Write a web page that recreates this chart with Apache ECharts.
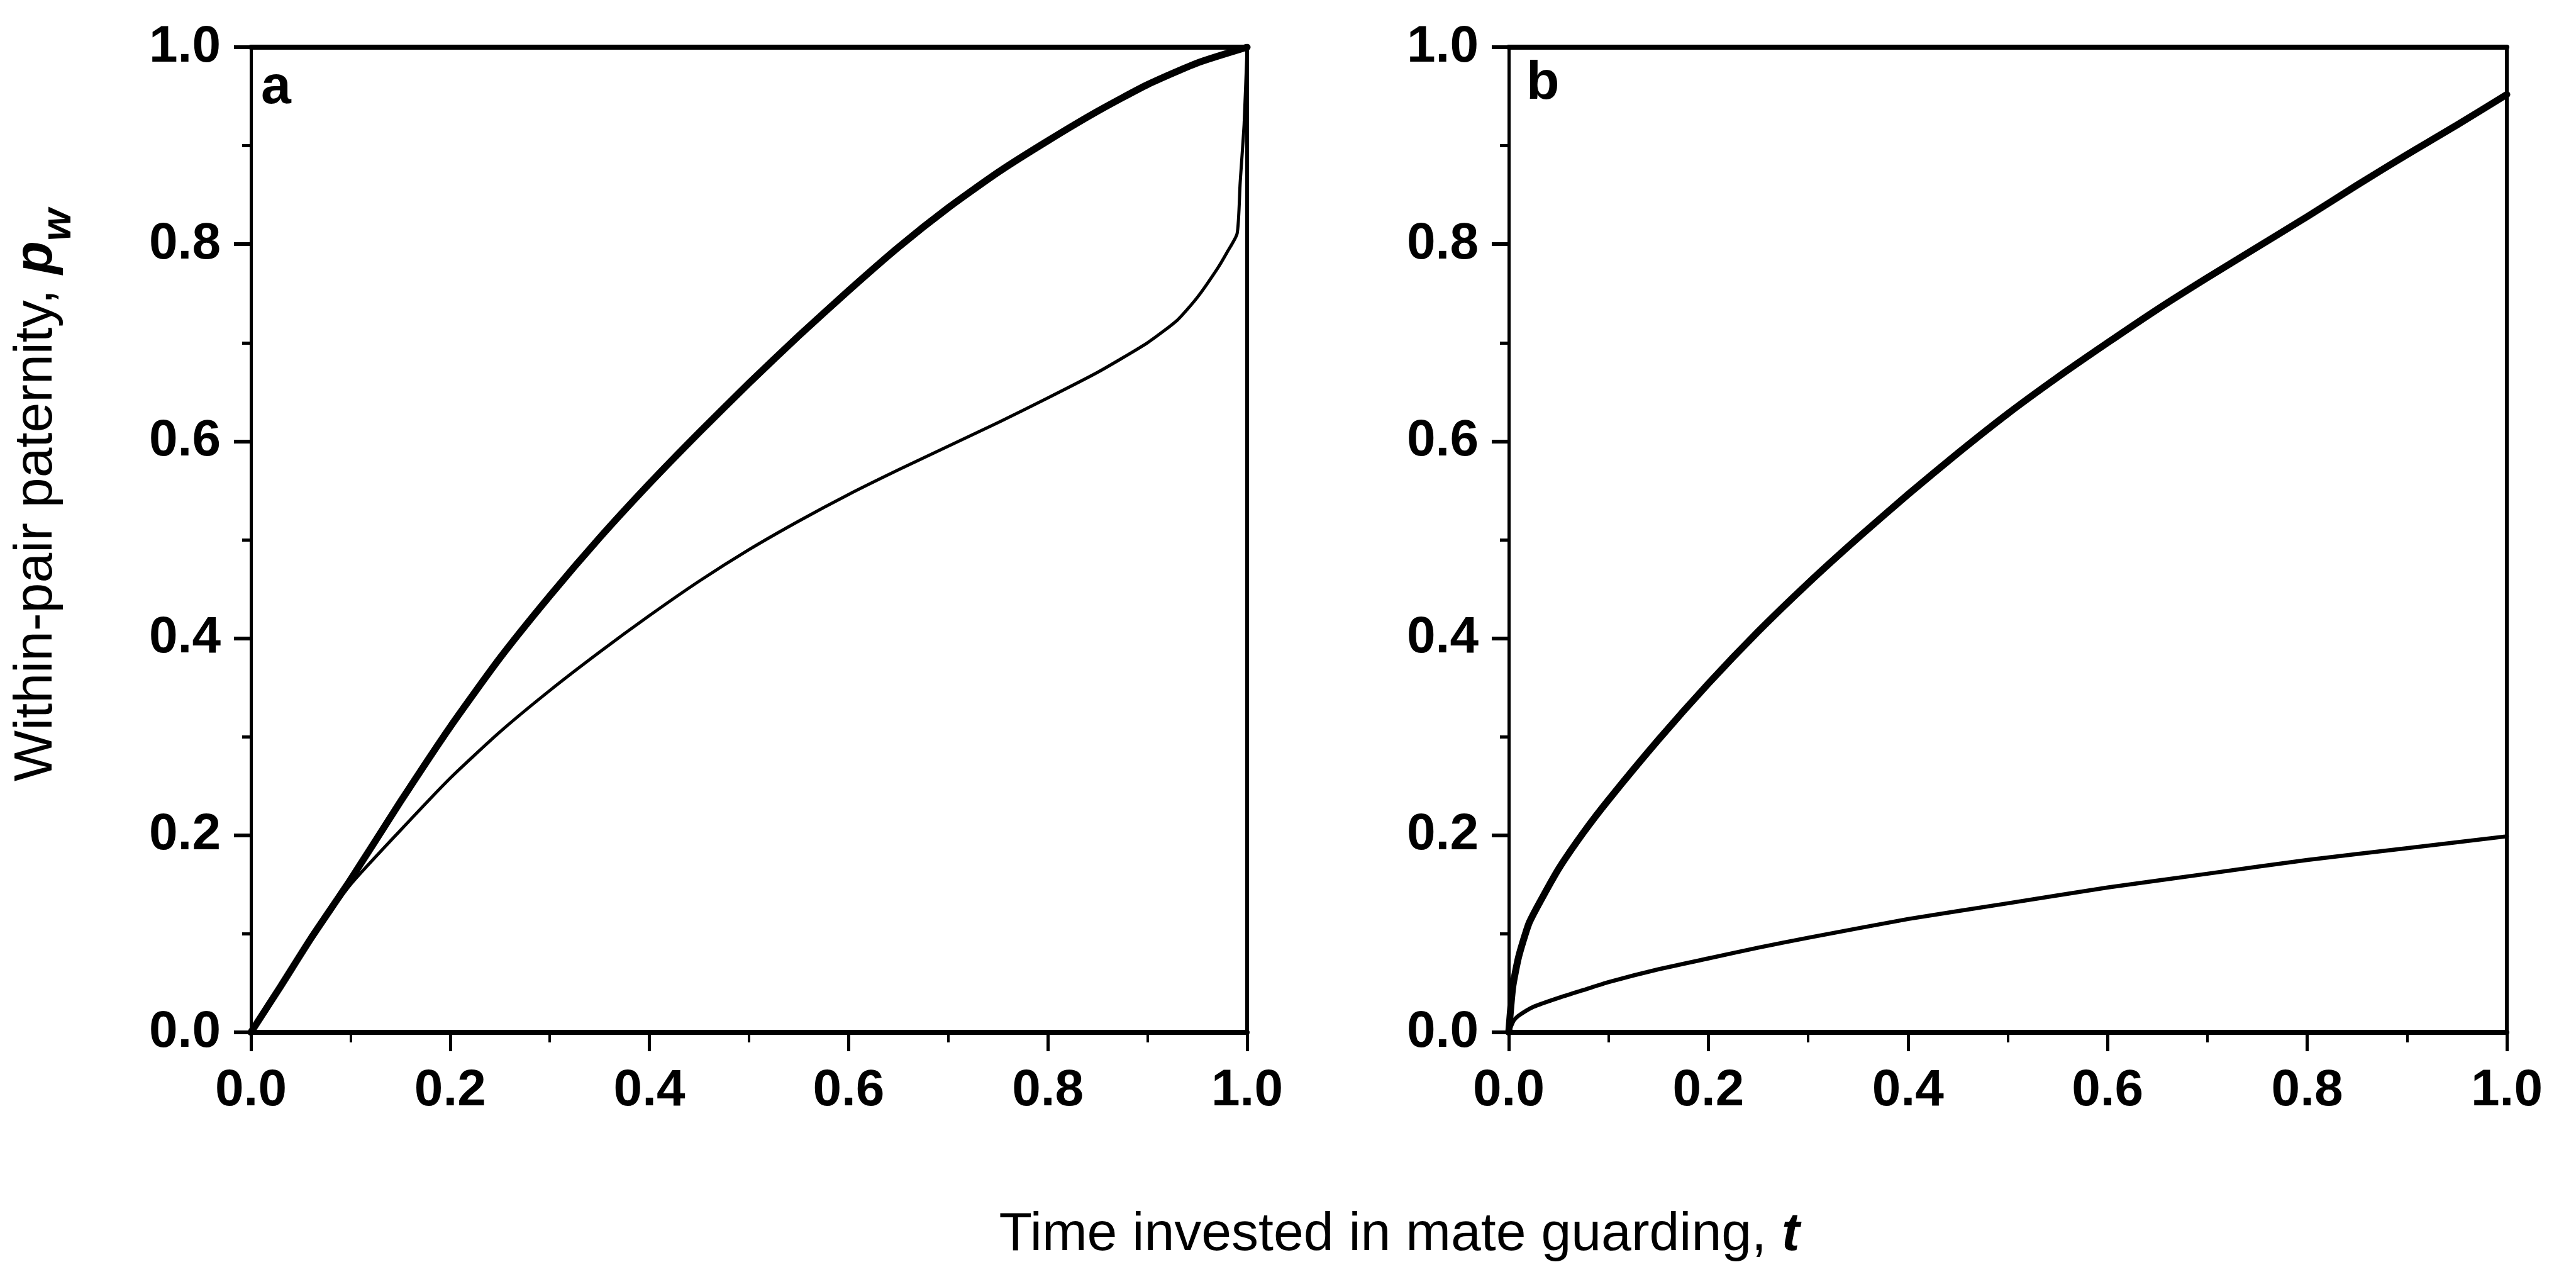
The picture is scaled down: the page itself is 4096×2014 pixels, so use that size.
<!DOCTYPE html>
<html>
<head>
<meta charset="utf-8">
<script src="https://cdn.jsdelivr.net/npm/echarts@6/dist/echarts.min.js"></script>
<style>
  html, body { margin: 0; padding: 0; background: #fff; }
  #chart { width: 4096px; height: 2014px; }
</style>
</head>
<body>
<div id="chart"></div>
<script>
// Panel a: time invested in mate guarding (t) vs within-pair paternity (p_w)
const tA_upper = [0, 0.03, 0.06, 0.10, 0.15, 0.20, 0.25, 0.30, 0.35, 0.40, 0.45, 0.50, 0.55, 0.60, 0.65, 0.70, 0.75, 0.80, 0.85, 0.90, 0.95, 1.0];
const pwA_upper = [0, 0.047, 0.095, 0.155, 0.234, 0.310, 0.380, 0.443, 0.502, 0.557, 0.609, 0.659, 0.707, 0.753, 0.797, 0.837, 0.873, 0.905, 0.935, 0.962, 0.984, 1.0];

const tA_lower = [0, 0.03, 0.06, 0.10, 0.15, 0.20, 0.25, 0.30, 0.35, 0.40, 0.45, 0.50, 0.55, 0.60, 0.65, 0.70, 0.75, 0.80, 0.85, 0.90, 0.93, 0.95, 0.97, 0.98, 0.99, 0.993, 0.997, 1.0];
const pwA_lower = [0, 0.047, 0.095, 0.150, 0.205, 0.258, 0.305, 0.347, 0.386, 0.423, 0.458, 0.490, 0.519, 0.546, 0.571, 0.595, 0.619, 0.644, 0.670, 0.700, 0.723, 0.746, 0.775, 0.792, 0.811, 0.862, 0.922, 1.0];

// Panel b
const tB_upper = [0, 0.004, 0.01, 0.02, 0.03, 0.05, 0.075, 0.10, 0.15, 0.20, 0.25, 0.30, 0.35, 0.40, 0.45, 0.50, 0.55, 0.60, 0.65, 0.70, 0.75, 0.80, 0.85, 0.90, 0.95, 1.0];
const pwB_upper = [0, 0.046, 0.077, 0.110, 0.130, 0.166, 0.203, 0.236, 0.297, 0.354, 0.407, 0.456, 0.502, 0.546, 0.588, 0.628, 0.665, 0.700, 0.734, 0.766, 0.797, 0.828, 0.860, 0.891, 0.921, 0.952];

const tB_lower = [0, 0.005, 0.01, 0.025, 0.05, 0.075, 0.10, 0.15, 0.20, 0.25, 0.30, 0.40, 0.50, 0.60, 0.70, 0.80, 0.90, 1.0];
const pwB_lower = [0, 0.012, 0.017, 0.026, 0.035, 0.043, 0.051, 0.064, 0.075, 0.086, 0.096, 0.115, 0.131, 0.147, 0.161, 0.175, 0.187, 0.199];

// Axis ticks (both axes, both panels)
const tickMin = 0, tickMax = 1, tickStep = 0.2;

const panelLabels = ['a', 'b'];
const yTitle = 'Within-pair paternity, ';
const xTitle = 'Time invested in mate guarding, ';

const FONT = '"Liberation Sans", Arial, Helvetica, sans-serif';
const INK = '#000';

function pairs(xs, ys) { return xs.map((x, i) => [x, ys[i]]); }

function mainX(gi) {
  return {
    gridIndex: gi, type: 'value', position: 'bottom',
    min: tickMin, max: tickMax, interval: tickStep,
    axisLine: { show: true, onZero: false, lineStyle: { color: INK, width: 8 } },
    axisTick: { show: true, inside: false, length: 30, lineStyle: { color: INK, width: 5 } },
    minorTick: { show: true, splitNumber: 2, length: 16, lineStyle: { color: INK, width: 4 } },
    splitLine: { show: false },
    axisLabel: {
      show: true, margin: 52, color: INK, fontFamily: FONT, fontWeight: 'bold', fontSize: 82,
      formatter: v => v.toFixed(1)
    }
  };
}
function frameX(gi) {
  return {
    gridIndex: gi, type: 'value', position: 'top', min: tickMin, max: tickMax,
    axisLine: { show: true, onZero: false, lineStyle: { color: INK, width: 8 } },
    axisTick: { show: false }, axisLabel: { show: false }, splitLine: { show: false }
  };
}
function mainY(gi) {
  return {
    gridIndex: gi, type: 'value', position: 'left',
    min: tickMin, max: tickMax, interval: tickStep,
    axisLine: { show: true, onZero: false, lineStyle: { color: INK, width: 5 } },
    axisTick: { show: true, inside: false, length: 27, lineStyle: { color: INK, width: 6 } },
    minorTick: { show: true, splitNumber: 2, length: 14, lineStyle: { color: INK, width: 5 } },
    splitLine: { show: false },
    axisLabel: {
      show: true, margin: 48, color: INK, fontFamily: FONT, fontWeight: 'bold', fontSize: 82,
      formatter: v => v.toFixed(1)
    }
  };
}
function frameY(gi) {
  return {
    gridIndex: gi, type: 'value', position: 'right', min: tickMin, max: tickMax,
    axisLine: { show: true, onZero: false, lineStyle: { color: INK, width: 6 } },
    axisTick: { show: false }, axisLabel: { show: false }, splitLine: { show: false }
  };
}

function curve(data, xi, yi, w) {
  return {
    type: 'line', xAxisIndex: xi, yAxisIndex: yi, data: data,
    showSymbol: false, smooth: 0.2,
    lineStyle: { color: INK, width: w, cap: 'round', join: 'round' },
    silent: true, animation: false
  };
}

const chart = echarts.init(document.getElementById('chart'), null, { renderer: 'canvas' });
chart.setOption({
  backgroundColor: '#fff',
  animation: false,
  grid: [
    { left: 399, top: 75, width: 1584, height: 1566 },
    { left: 2399, top: 75, width: 1587, height: 1566 }
  ],
  xAxis: [mainX(0), frameX(0), mainX(1), frameX(1)],
  yAxis: [mainY(0), frameY(0), mainY(1), frameY(1)],
  series: [
    curve(pairs(tA_upper, pwA_upper), 0, 0, 11),
    curve(pairs(tA_lower, pwA_lower), 0, 0, 5),
    curve(pairs(tB_upper, pwB_upper), 2, 2, 11),
    curve(pairs(tB_lower, pwB_lower), 2, 2, 6.5)
  ],
  graphic: [
    {
      type: 'text', x: 415, y: 140,
      style: { text: panelLabels[0], fill: INK, font: 'bold 86px ' + FONT, align: 'left', verticalAlign: 'middle' }
    },
    {
      type: 'text', x: 2427, y: 133,
      style: { text: panelLabels[1], fill: INK, font: 'bold 86px ' + FONT, align: 'left', verticalAlign: 'middle' }
    },
    {
      type: 'text', x: 2225, y: 1963,
      style: {
        text: '{n|' + xTitle + '}{i|t}',
        align: 'center', verticalAlign: 'middle', fill: INK,
        rich: {
          n: { fontFamily: FONT, fontSize: 86, fill: INK },
          i: { fontFamily: FONT, fontSize: 86, fontWeight: 'bold', fontStyle: 'italic', fill: INK }
        }
      }
    },
    {
      type: 'text', x: 71, y: 787, rotation: Math.PI / 2,
      style: {
        text: '{n|' + yTitle + '}{i|p}{s|w}',
        align: 'center', verticalAlign: 'middle', fill: INK,
        rich: {
          n: { fontFamily: FONT, fontSize: 86, fill: INK, verticalAlign: 'top' },
          i: { fontFamily: FONT, fontSize: 86, fontWeight: 'bold', fontStyle: 'italic', fill: INK, verticalAlign: 'top' },
          s: { fontFamily: FONT, fontSize: 66, fontWeight: 'bold', fontStyle: 'italic', fill: INK, verticalAlign: 'top', padding: [46, 0, 0, 0] }
        }
      }
    }
  ]
});
</script>
</body>
</html>
